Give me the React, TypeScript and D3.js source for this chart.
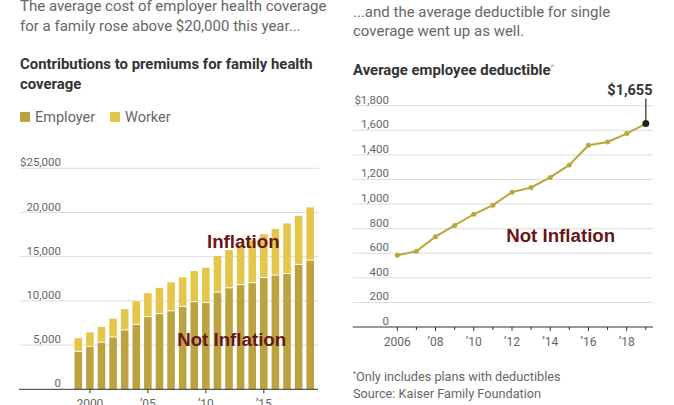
import React from "react";
import * as d3 from "d3";

// ---------- DATA ----------
const premiumYears = [1999, 2000, 2001, 2002, 2003, 2004, 2005, 2006, 2007, 2008, 2009, 2010, 2011, 2012, 2013, 2014, 2015, 2016, 2017, 2018, 2019];
const employerValues = [4247, 4819, 5274, 5866, 6657, 7289, 8167, 8508, 8824, 9325, 9860, 9773, 10944, 11429, 11786, 12011, 12591, 12865, 13049, 14069, 14561];
const workerValues = [1543, 1619, 1787, 2137, 2412, 2661, 2713, 2973, 3281, 3354, 3515, 3997, 4129, 4316, 4565, 4823, 4955, 5277, 5714, 5547, 6015];
const premiumTicks = [0, 5000, 10000, 15000, 20000, 25000];
const premiumTickLabels = ["0", "5,000", "10,000", "15,000", "20,000", "$25,000"];
const premiumXTicks = [2000, 2005, 2010, 2015];
const premiumXLabels = ["2000", "\u201905", "\u201910", "\u201915"];

const deductibleYears = [2006, 2007, 2008, 2009, 2010, 2011, 2012, 2013, 2014, 2015, 2016, 2017, 2018, 2019];
const deductibleValues = [584, 616, 735, 826, 917, 991, 1097, 1135, 1217, 1318, 1478, 1505, 1573, 1655];
const deductibleTicks = [0, 200, 400, 600, 800, 1000, 1200, 1400, 1600, 1800];
const deductibleTickLabels = ["0", "200", "400", "600", "800", "1,000", "1,200", "1,400", "1,600", "$1,800"];
const deductibleXTicks = [2006, 2008, 2010, 2012, 2014, 2016, 2018];
const deductibleXLabels = ["2006", "\u201908", "\u201910", "\u201912", "\u201914", "\u201916", "\u201918"];

const legendItems = ["Employer", "Worker"];

// ---------- STYLE ----------
const FONT = "Roboto, 'Noto Sans', sans-serif";
const ARIAL = "'Liberation Sans', Arial, sans-serif";
const EMP = "#bba43f";
const WRK = "#e4c64b";
const LINE = "#b9a73c";
const GRID = "#dcdcdc";
const TXT = "#666";
const DARK = "#333";
const MAROON = "#6a1616";

export default function App() {
  // left scales
  const yL = d3.scaleLinear().domain([0, 25000]).range([389.3, 168.3]);
  const xL = d3.scaleBand<number>().domain(premiumYears).range([74.5, 314]).paddingInner(0.345).paddingOuter(0);
  const bw = xL.bandwidth();

  // right scales
  const yR = d3.scaleLinear().domain([0, 1800]).range([327, 105.7]);
  const xR = d3.scaleLinear().domain([2006, 2019]).range([397.3, 645.8]);
  const linePath = d3
    .line<number>()
    .x((_, i) => xR(deductibleYears[i]))
    .y((d) => yR(d))(deductibleValues) as string;

  const lastIdx = deductibleValues.length - 1;
  const lastX = xR(deductibleYears[lastIdx]);
  const lastY = yR(deductibleValues[lastIdx]);
  const allYearsR = d3.range(2006, 2020);

  return (
    <svg
      width={674}
      height={405}
      style={{ position: "absolute", left: 0, top: 0, background: "#fff" }}
      fontFamily={FONT}
    >
      <rect x={0} y={0} width={674} height={405} fill="#fff" />

      {/* ---------- LEFT PANEL ---------- */}
      <g>
        <text x={20} y={11} fontSize={15} fill={TXT}>The average cost of employer health coverage</text>
        <text x={20} y={31} fontSize={15} fill={TXT}>for a family rose above $20,000 this year...</text>
        <text x={20} y={69} fontSize={14.9} fontWeight={700} fill={DARK}>Contributions to premiums for family health</text>
        <text x={20} y={89} fontSize={14.9} fontWeight={700} fill={DARK}>coverage</text>

        {legendItems.map((name, i) => {
          const x0 = i === 0 ? 20 : 110;
          return (
            <g key={name}>
              <rect x={x0} y={112} width={10} height={10} fill={i === 0 ? EMP : WRK} />
              <text x={x0 + 15} y={121.5} fontSize={14.5} fill={TXT}>{name}</text>
            </g>
          );
        })}

        {premiumTicks.map((t, i) => (
          <g key={t}>
            {t !== 0 && <line x1={20} x2={319} y1={yL(t)} y2={yL(t)} stroke={GRID} strokeWidth={1} />}
            <text x={61} y={yL(t) - 2} fontSize={11.5} fill={TXT} textAnchor="end">{premiumTickLabels[i]}</text>
          </g>
        ))}

        {premiumYears.map((yr, i) => {
          const x = xL(yr) as number;
          const e = employerValues[i];
          const tot = e + workerValues[i];
          return (
            <g key={yr}>
              <rect x={x} y={yL(e)} width={bw} height={yL(0) - yL(e)} fill={EMP} />
              <rect x={x} y={yL(tot)} width={bw} height={Math.max(0, yL(e) - yL(tot) - 1)} fill={WRK} />
            </g>
          );
        })}

        <line x1={19} x2={318} y1={yL(0)} y2={yL(0)} stroke={DARK} strokeWidth={1} />
        {premiumXTicks.map((yr, i) => {
          const cx = (xL(yr) as number) + bw / 2;
          return (
            <g key={yr}>
              <line x1={cx} x2={cx} y1={yL(0)} y2={yL(0) + 4} stroke={DARK} strokeWidth={1} />
              <text x={cx} y={408} fontSize={12} fill={TXT} textAnchor="middle">{premiumXLabels[i]}</text>
            </g>
          );
        })}

        <text x={243.3} y={247.6} fontFamily={ARIAL} fontWeight={700} fontSize={18.7} fill={MAROON} textAnchor="middle">Inflation</text>
        <text x={231.7} y={346} fontFamily={ARIAL} fontWeight={700} fontSize={18.7} fill={MAROON} textAnchor="middle">Not Inflation</text>
      </g>

      {/* ---------- RIGHT PANEL ---------- */}
      <g>
        <text x={353} y={16.5} fontSize={15} fill={TXT}>...and the average deductible for single</text>
        <text x={353} y={36} fontSize={15} fill={TXT}>coverage went up as well.</text>
        <text x={353} y={75} fontSize={14.9} fontWeight={700} fill={DARK}>
          Average employee deductible
          <tspan fontSize={8} fontWeight={400} fill="#999" dy={-6}>*</tspan>
        </text>

        {deductibleTicks.map((t, i) => (
          <g key={t}>
            {t !== 0 && <line x1={353} x2={653} y1={yR(t)} y2={yR(t)} stroke={GRID} strokeWidth={1} />}
            <text x={389} y={yR(t) - 2} fontSize={11.5} fill={TXT} textAnchor="end">{deductibleTickLabels[i]}</text>
          </g>
        ))}

        <line x1={352.7} x2={653} y1={yR(0)} y2={yR(0)} stroke={DARK} strokeWidth={1} />
        {allYearsR.map((yr) => {
          const major = deductibleXTicks.includes(yr);
          return (
            <line key={yr} x1={xR(yr)} x2={xR(yr)} y1={yR(0)} y2={yR(0) + (major ? 4 : 3)} stroke={DARK} strokeWidth={1} />
          );
        })}
        {deductibleXTicks.map((yr, i) => (
          <text key={yr} x={xR(yr)} y={346} fontSize={12} fill={TXT} textAnchor="middle">{deductibleXLabels[i]}</text>
        ))}

        <path d={linePath} fill="none" stroke={LINE} strokeWidth={2} />
        {deductibleValues.map((v, i) =>
          i === lastIdx ? null : (
            <circle key={i} cx={xR(deductibleYears[i])} cy={yR(v)} r={2.5} fill={LINE} />
          )
        )}
        <line x1={lastX} x2={lastX} y1={98.5} y2={lastY} stroke="#555" strokeWidth={1.5} />
        <circle cx={lastX} cy={lastY} r={3.5} fill="#222" />
        <text x={652.5} y={95} fontSize={14.5} fontWeight={700} fill={DARK} textAnchor="end">
          {"$" + d3.format(",")(deductibleValues[lastIdx])}
        </text>

        <text x={560.7} y={241.7} fontFamily={ARIAL} fontWeight={700} fontSize={18.7} fill={MAROON} textAnchor="middle">Not Inflation</text>

        <text x={353} y={381} fontSize={12.7} fill={TXT}>
          <tspan fontSize={7} dy={-5}>*</tspan>
          <tspan dy={5}>Only includes plans with deductibles</tspan>
        </text>
        <text x={353} y={398} fontSize={12.7} fill={TXT}>Source: Kaiser Family Foundation</text>
      </g>
    </svg>
  );
}
